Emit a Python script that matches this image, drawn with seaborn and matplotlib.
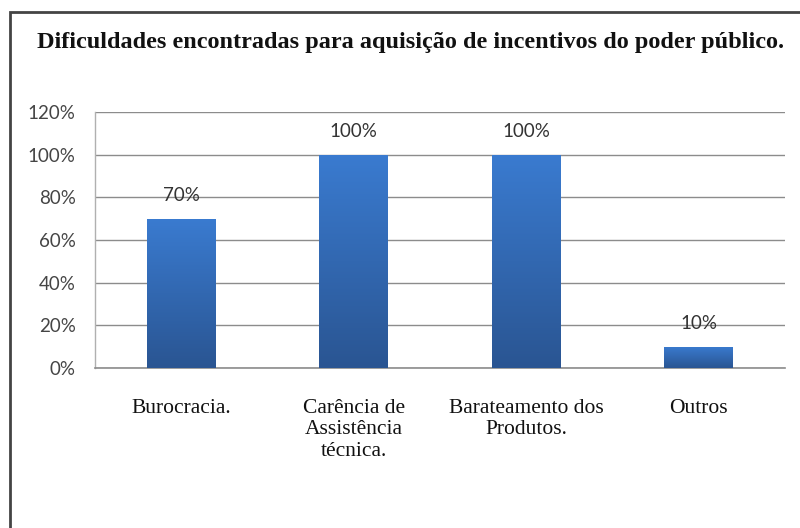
import numpy as np
import pandas as pd
import matplotlib
matplotlib.use("Agg")
import matplotlib.pyplot as plt
import seaborn as sns
from matplotlib.colors import LinearSegmentedColormap
from matplotlib.patches import Rectangle

# Data
categories = ["Burocracia.", "Carência de\nAssistência\ntécnica.", "Barateamento dos\nProdutos.", "Outros"]
values = [70, 100, 100, 10]
y_ticks = [0, 20, 40, 60, 80, 100, 120]
title = "Dificuldades encontradas para aquisição de incentivos do poder público."

df = pd.DataFrame({"categoria": categories, "valor": values})

sns.set_theme(style="white")
plt.rcParams["font.family"] = ["Liberation Serif", "DejaVu Serif"]

fig = plt.figure(figsize=(8, 5.28), dpi=100)
ax = fig.add_axes([0.119, 0.303, 0.862, 0.485])

sns.barplot(data=df, x="categoria", y="valor", color="#3266b0", width=0.4, ax=ax,
            saturation=1, zorder=3)

# gradient fill on each bar
cmap = LinearSegmentedColormap.from_list("grad", ["#2a5592", "#3a7bd0"])
grad = np.linspace(0, 1, 256).reshape(-1, 1)
for p in ax.patches:
    x0, y0 = p.get_x(), p.get_y()
    w, h = p.get_width(), p.get_height()
    im = ax.imshow(grad, cmap=cmap, aspect="auto", origin="lower",
                   extent=[x0, x0 + w, y0, y0 + h], zorder=4)
    im.set_clip_path(p)
    p.set_edgecolor("none")

ax.set_xlim(-0.5, len(categories) - 0.5)
ax.set_ylim(0, 120)
ax.set_yticks(y_ticks)
ax.set_yticklabels([f"{t}%" for t in y_ticks], family=["Lato", "DejaVu Sans"],
                   fontsize=13.5, color="#454545")
ax.set_xticks(range(len(categories)))
ax.set_xticklabels(categories, fontsize=15.5, color="#111111", linespacing=1.2,
                   va="top")
ax.tick_params(axis="x", length=0, pad=22)
ax.tick_params(axis="y", length=0, pad=14)
ax.set_xlabel("")
ax.set_ylabel("")

ax.yaxis.grid(True, color="#8c8c8c", linewidth=1.0, zorder=0)
for s in ["top", "right"]:
    ax.spines[s].set_visible(False)
ax.spines["left"].set_color("#b0b0b0")
ax.spines["bottom"].set_color("#8c8c8c")
ax.spines["left"].set_linewidth(1.0)
ax.spines["bottom"].set_linewidth(1.2)

for i, v in enumerate(values):
    ax.annotate(f"{v}%", (i, v), xytext=(0, 17), textcoords="offset points",
                ha="center", va="center", fontsize=13.5, color="#333333",
                family=["Lato", "DejaVu Sans"])

fig.text(0.513, 0.92, title, ha="center", va="center", fontsize=17.5,
         fontweight="bold", color="#111111")

# outer chart frame (left and top edges visible)
fig.add_artist(Rectangle((0.0125, -0.01), 1.2, 0.988, transform=fig.transFigure,
                         fill=False, edgecolor="#444444", linewidth=2.0))

fig.savefig("out.png", dpi=100)
